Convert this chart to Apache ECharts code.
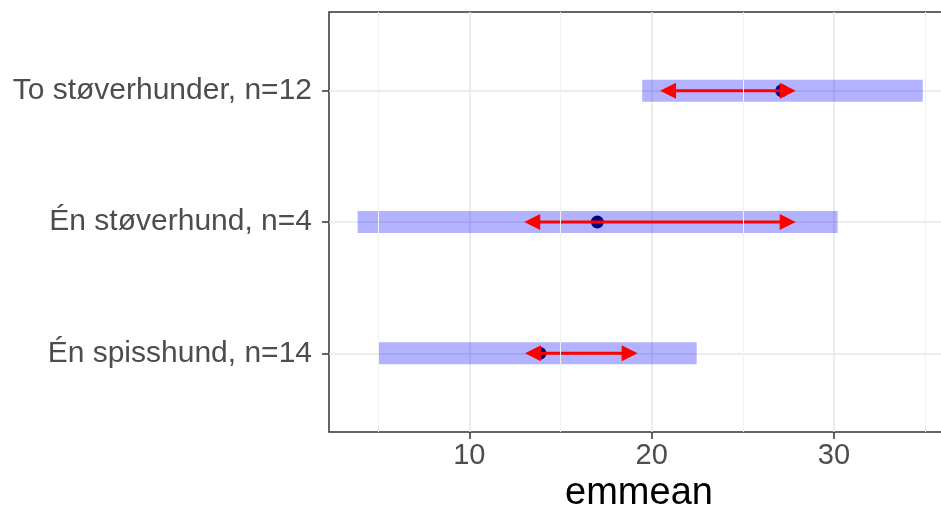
<!DOCTYPE html>
<html>
<head>
<meta charset="utf-8">
<script src="https://cdn.jsdelivr.net/npm/echarts@6/dist/echarts.min.js"></script>
<style>
html, body { margin: 0; padding: 0; background: #fff; }
#chart { width: 941px; height: 513px; }
</style>
</head>
<body>
<div id="chart"></div>
<script>
// groups, bottom to top
var groups = ['Én spisshund, n=14', 'Én støverhund, n=4', 'To støverhunder, n=12'];
var emmean = [13.87, 17.02, 27.13];
var lowerCL = [5.04, 3.87, 19.48];
var upperCL = [22.47, 30.2, 34.87];
// comparison arrows (tips)
var arrowLo = [13.05, 13.01, 20.46];
var arrowHi = [19.23, 27.9, 27.9];

var xMajor = [10, 20, 30];
var xMinor = [5, 15, 25, 35];
var yTicks = [1, 2, 3];

var font = '"Liberation Sans", Arial, sans-serif';

var myChart = echarts.init(document.getElementById('chart'));

var ciData = [], arrowData = [], pointData = [];
for (var i = 0; i < groups.length; i++) {
	ciData.push([lowerCL[i], upperCL[i], i + 1]);
	arrowData.push([arrowLo[i], arrowHi[i], i + 1, emmean[i]]);
	pointData.push([emmean[i], i + 1]);
}

function head(tip, dir, y) {
	// closed triangle, dir = -1 points left, 1 points right
	var len = 16, half = 8;
	return {
		type: 'polygon',
		shape: { points: [[tip, y], [tip - dir * len, y - half], [tip - dir * len, y + half]] },
		style: { fill: '#FF0000' }
	};
}

var option = {
	animation: false,
	grid: {
		left: 329, top: 12, width: 620, height: 420,
		show: true, borderColor: '#333333', borderWidth: 1.5,
		containLabel: false, outerBoundsMode: 'none'
	},
	xAxis: {
		type: 'value', min: 2.3, max: 36.31,
		name: 'emmean', nameLocation: 'middle', nameGap: 42,
		nameTextStyle: { fontFamily: font, fontSize: 38, color: '#000' },
		axisLine: { show: false },
		axisTick: { show: true, length: 7, customValues: xMajor, lineStyle: { color: '#333333', width: 1.5 } },
		axisLabel: { customValues: xMajor, margin: 9, fontFamily: font, fontSize: 29, color: '#4D4D4D' },
		splitLine: { show: true, lineStyle: { color: '#E6E6E6', width: 1.5 } }
	},
	yAxis: {
		type: 'value', min: 0.4, max: 3.6,
		axisLine: { show: false },
		axisTick: { show: true, length: 7, customValues: yTicks, lineStyle: { color: '#333333', width: 1.5 } },
		axisLabel: {
			customValues: yTicks, margin: 17, fontFamily: font, fontSize: 30, color: '#4D4D4D',
			formatter: function (v) { return groups[Math.round(v) - 1]; }
		},
		splitLine: { show: true, lineStyle: { color: '#E6E6E6', width: 1.5 } }
	},
	series: [{
		type: 'scatter',
		z: 2,
		symbolSize: 13,
		itemStyle: { color: '#00004D', opacity: 1 },
		data: pointData,
		// minor vertical grid lines
		markLine: {
			silent: true,
			symbol: 'none',
			label: { show: false },
			lineStyle: { color: '#F0F0F0', width: 1, type: 'solid' },
			data: xMinor.map(function (v) { return { xAxis: v }; })
		}
	}, {
		type: 'custom',
		z: 3,
		encode: { x: [0, 1], y: 2 },
		renderItem: function (params, api) {
			var a = api.coord([api.value(0), api.value(2)]);
			var b = api.coord([api.value(1), api.value(2)]);
			return {
				type: 'rect',
				shape: { x: a[0], y: a[1] - 11, width: b[0] - a[0], height: 22 },
				style: { fill: 'rgba(0,0,255,0.3)' }
			};
		},
		data: ciData
	}, {
		type: 'custom',
		z: 4,
		encode: { x: [0, 1], y: 2 },
		renderItem: function (params, api) {
			var a = api.coord([api.value(0), api.value(2)]);
			var b = api.coord([api.value(1), api.value(2)]);
			return {
				type: 'group',
				children: [{
					type: 'line',
					shape: { x1: a[0] + 8, y1: a[1], x2: b[0] - 8, y2: b[1] },
					style: { stroke: '#FF0000', lineWidth: 3 }
				}, head(a[0], -1, a[1]), head(b[0], 1, b[1])]
			};
		},
		data: arrowData
	}]
};

myChart.setOption(option);
</script>
</body>
</html>
